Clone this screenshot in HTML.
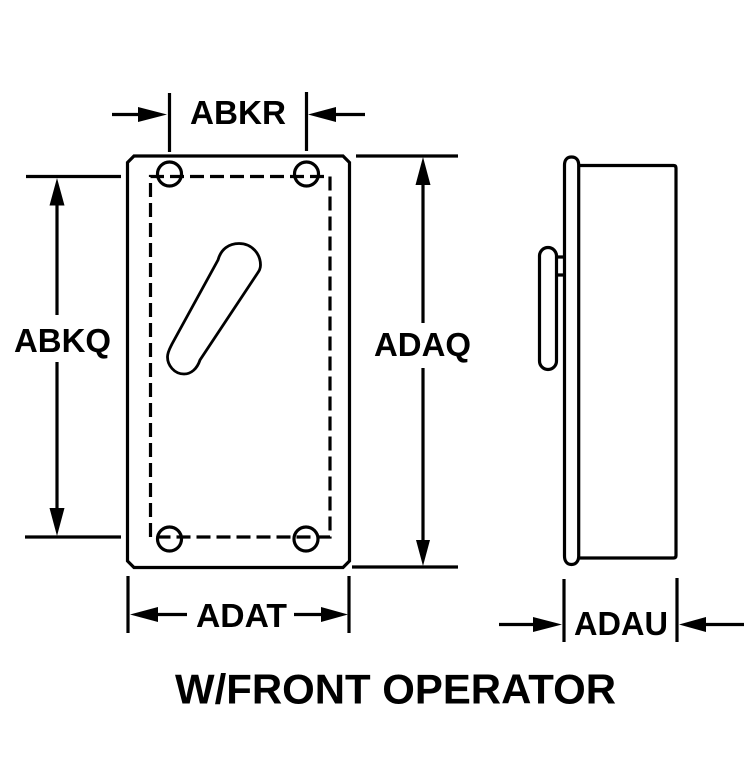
<!DOCTYPE html>
<html><head><meta charset="utf-8"><style>html,body{margin:0;padding:0;background:#fff}svg{display:block}text{font-family:"Liberation Sans",Arial,sans-serif;font-weight:bold;fill:#000}</style></head><body>
<svg width="753" height="768" viewBox="0 0 753 768" xmlns="http://www.w3.org/2000/svg">
<g fill="none" stroke="#000" stroke-width="3.200">
<!-- front plate -->
<path d="M134 156H343L349.500 162.500V561L343 567.500H134L127.500 561V162.500Z"/>
<path d="M150.500 537V176.500H330V537Z" stroke-dasharray="14 6"/>
<circle cx="169.500" cy="174" r="12"/><circle cx="306.500" cy="174" r="12"/>
<circle cx="169.500" cy="539" r="12"/><circle cx="306" cy="539" r="12"/>
<path d="M218 260C221 249 229 243.500 239 243.500C252 243.500 260.500 254 260.500 265C260.500 269 259 271 257 274L200 360C197 369 191 374 184 374C174 374 167.500 365 167.500 357C167.500 352 170 348 172 344Z" stroke-width="2.800"/>
<!-- side view -->
<path d="M564.500 556V165C564.500 160 567 157 571.500 157C576 157 578.700 160 578.700 165V556C578.700 561 576 564.500 571.500 564.500C567 564.500 564.500 561 564.500 556Z"/>
<path d="M579 165.500H673.500Q676 165.500 676 168V555.500Q676 558 673.500 558H579"/>
<rect x="539.500" y="247.500" width="17" height="122" rx="8.500"/>
<path d="M557 257H564M557 275H564"/>
<!-- extension lines -->
<path d="M169.500 93V152M306.500 92V151M26 176.500H121M25 537H121M356 156H458M352 567H458M128 576V633M349 576V633M564 579V642M677 578V642"/>
<!-- dimension lines -->
<path d="M112 114.500H140M336 114.500H365M57 205V315M57 362V510M423 185V323M423 368V542M158 614.500H187M294 614.500H321M499 624.500H535M706 624.500H744"/>
</g>
<g fill="#000">
<path d="M167 114.500L138 107V122Z"/><path d="M308 114.500L336 107V122Z"/>
<path d="M57 178L49.500 205.500H64.500Z"/><path d="M57 536L49.500 508H64.500Z"/>
<path d="M423 157L415.500 185H430.500Z"/><path d="M423 566L416 540H430Z"/>
<path d="M130 614.500L158 607V622Z"/><path d="M348 614.500L321 607V622Z"/>
<path d="M562 624.500L533 617V632Z"/><path d="M679 624.500L706 617V632Z"/>
</g>
<text x="190" y="124" font-size="33" textLength="96" lengthAdjust="spacingAndGlyphs">ABKR</text>
<text x="14" y="352" font-size="33" textLength="97" lengthAdjust="spacingAndGlyphs">ABKQ</text>
<text x="374" y="356" font-size="33" textLength="97" lengthAdjust="spacingAndGlyphs">ADAQ</text>
<text x="196" y="627" font-size="33" textLength="91" lengthAdjust="spacingAndGlyphs">ADAT</text>
<text x="574" y="635" font-size="33" textLength="94" lengthAdjust="spacingAndGlyphs">ADAU</text>
<text x="175" y="703.500" font-size="41.500" textLength="441" lengthAdjust="spacingAndGlyphs">W/FRONT OPERATOR</text>
</svg>
</body></html>
